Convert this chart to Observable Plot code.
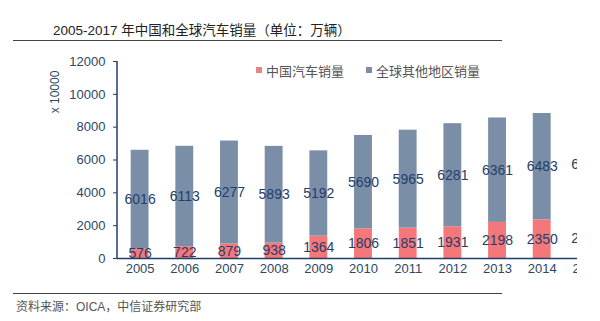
<!DOCTYPE html>
<html>
<head>
<meta charset="utf-8">
<script src="https://cdn.jsdelivr.net/npm/d3@7"></script>
<script src="https://cdn.jsdelivr.net/npm/@observablehq/plot@0.6"></script>
<style>
  html, body { margin: 0; padding: 0; background: #fff; }
  body { width: 600px; height: 321px; position: relative; overflow: hidden;
         font-family: "Noto Sans CJK SC", "Liberation Sans", sans-serif; }
  #title { position: absolute; left: 53px; top: 19px; font-size: 13.5px; color: #222;
           font-family: "Liberation Sans", "Noto Sans CJK SC", sans-serif; white-space: nowrap; }
  .rule { position: absolute; left: 13px; width: 489px; height: 1px; background: #444; }
  #chart { position: absolute; left: 0; top: 0; width: 577px; height: 300px; overflow: hidden; }
  #chart svg { max-width: none !important; }
  #ylab { position: absolute; left: 55px; top: 92px; transform: translate(-50%, -50%) rotate(-90deg);
          font-size: 12px; color: #2c4766; font-family: "Liberation Sans", sans-serif; white-space: nowrap; }
  #legend { position: absolute; top: 58px; left: 256px; font-size: 13px; color: #555; white-space: nowrap; }
  #legend span.item { display: inline-flex; align-items: center; margin-right: 22px; }
  #legend i { display: inline-block; width: 6px; height: 6px; margin-right: 4px; }
  #caption { position: absolute; left: 16px; top: 297px; font-size: 12px; color: #555; white-space: nowrap; }
</style>
</head>
<body>
<div id="title">2005-2017 年中国和全球汽车销量（单位：万辆）</div>
<div class="rule" style="top:40px"></div>
<div id="chart"></div>
<div id="ylab">x 10000</div>
<div id="legend"></div>
<div class="rule" style="top:293px"></div>
<div id="caption">资料来源：<span style="font-family:'Liberation Sans',sans-serif">OICA</span>，中信证券研究部</div>
<script>
const years = ["2005","2006","2007","2008","2009","2010","2011","2012","2013","2014","2015"];
const china = [576, 722, 879, 938, 1364, 1806, 1851, 1931, 2198, 2350, 2460];
const other = [6016, 6113, 6277, 5893, 5192, 5690, 5965, 6281, 6361, 6483, 6508];
const seriesNames = ["中国汽车销量", "全球其他地区销量"];
const seriesColors = ["#f4777a", "#7b8ea7"];
const legendColors = ["#e8848a", "#7b8ea7"];
const yTicks = [0, 2000, 4000, 6000, 8000, 10000, 12000];

const rows = [];
years.forEach((y, i) => {
  rows.push({year: y, series: seriesNames[0], value: china[i]});
  rows.push({year: y, series: seriesNames[1], value: other[i]});
});

const axisColor = "#1f3f66";
const textColor = "#2c4766";

const chart = Plot.plot({
  width: 640,
  height: 290,
  marginLeft: 117,
  marginRight: 31,
  marginTop: 61,
  marginBottom: 32,
  style: {fontFamily: "'Liberation Sans', Arial, sans-serif", background: "transparent", maxWidth: "none"},
  x: {type: "band", domain: years, paddingInner: 0.6, paddingOuter: 0.306, round: false, axis: null},
  y: {domain: [0, 12000], axis: null},
  color: {domain: seriesNames, range: seriesColors},
  marks: [
    Plot.barY(rows, Plot.stackY({x: "year", y: "value", fill: "series", order: null})),
    Plot.text(rows, Plot.stackY({x: "year", y: "value", text: d => String(d.value), order: null,
      fill: "#243e6b", fontSize: 14})),
    Plot.ruleY([0], {stroke: axisColor, strokeWidth: 1.5}),
    Plot.axisX({tickSize: 0, tickPadding: 5, fontSize: 13, color: textColor, label: null}),
    Plot.axisY({ticks: yTicks, tickSize: 4, tickPadding: 8, fontSize: 13, color: textColor,
      stroke: axisColor, tickFormat: d3.format("d"), label: null})
  ]
});
chart.style.maxWidth = "none";

// left axis line drawn from the plot's own scales
const xr = chart.scale("x").range, yr = chart.scale("y").range;
d3.select(chart).append("line")
  .attr("x1", xr[0]).attr("x2", xr[0])
  .attr("y1", yr[0]).attr("y2", yr[1])
  .attr("stroke", axisColor).attr("stroke-width", 1.5);

document.getElementById("chart").appendChild(chart);

const legend = document.getElementById("legend");
seriesNames.forEach((n, i) => {
  const s = document.createElement("span");
  s.className = "item";
  s.innerHTML = `<i style="background:${legendColors[i]}"></i>${n}`;
  legend.appendChild(s);
});
</script>
</body>
</html>
